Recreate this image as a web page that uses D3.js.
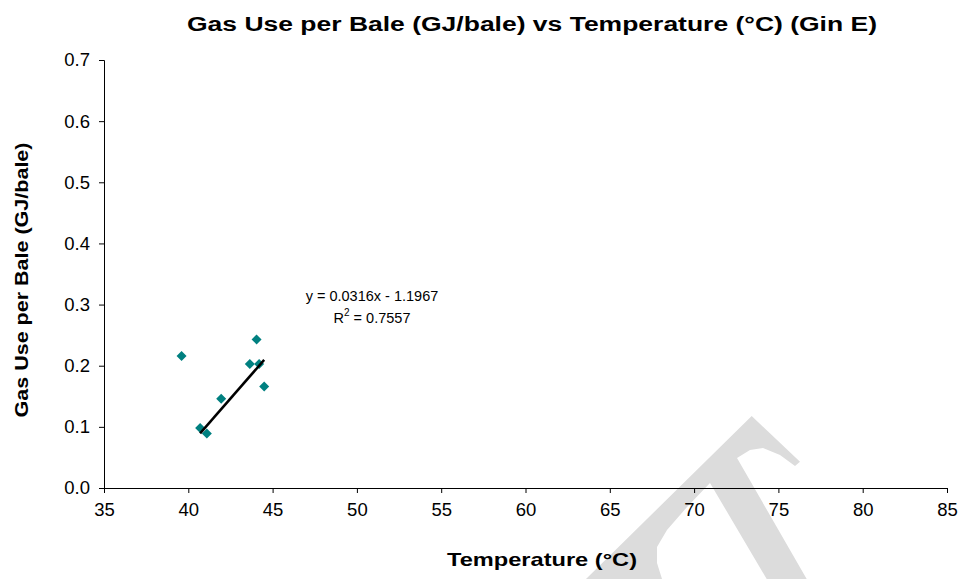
<!DOCTYPE html>
<html>
<head>
<meta charset="utf-8">
<script src="https://cdn.jsdelivr.net/npm/d3@7"></script>
<style>
  body { margin: 0; background: #fff; }
  svg { display: block; font-family: Arial, "Liberation Sans", sans-serif; }
</style>
</head>
<body>
<div id="chart"></div>
<script>
const temps = [39.6, 44.05, 43.65, 44.2, 44.5, 41.95, 40.7, 41.1];
const gasUse = [0.216, 0.243, 0.203, 0.203, 0.166, 0.146, 0.098, 0.089];
const xTicks = [35, 40, 45, 50, 55, 60, 65, 70, 75, 80, 85];
const yTicks = [0, 0.1, 0.2, 0.3, 0.4, 0.5, 0.6, 0.7];
const trendCoef = [0.0316, -1.1967];
const trendRange = [40.7, 44.5];
const trendLabels = ['y = 0.0316x - 1.1967', '= 0.7557'];

const width = 962;
const height = 579;
const margin = { top: 60, right: 15, bottom: 91, left: 104 };

const svg = d3.select('#chart').append('svg')
  .attr('width', width)
  .attr('height', height);

// light "draft" stamp fragment in the lower right
const stamp = [[586, 579], [751.7, 416], [800, 461.7], [795, 466], [780, 455], [763, 448],
  [750, 450], [737, 458], [806.7, 579], [766.7, 579], [710, 483], [687, 507],
  [667, 530], [657, 547], [657, 563], [662, 579]];
svg.append('path')
  .attr('d', d3.line().curve(d3.curveLinearClosed)(stamp))
  .attr('fill', '#dcdcdc');

const xScale = d3.scaleLinear().domain([35, 85]).range([margin.left, width - margin.right]);
const yScale = d3.scaleLinear().domain([0, 0.7]).range([height - margin.bottom, margin.top]);

const xAxis = svg.append('g')
  .attr('transform', `translate(0, ${yScale(0)})`)
  .call(d3.axisBottom(xScale).tickValues(xTicks).tickSize(5).tickPadding(10).tickFormat(d3.format('d')));

const yAxis = svg.append('g')
  .attr('transform', `translate(${xScale(35)}, 0)`)
  .call(d3.axisLeft(yScale).tickValues(yTicks).tickSize(5).tickPadding(9).tickFormat(d3.format('.1f')));

[xAxis, yAxis].forEach((g) => {
  g.select('.domain').attr('stroke', '#000');
  g.selectAll('.tick line').attr('stroke', '#000');
  g.selectAll('.tick text')
    .attr('fill', '#000')
    .style('font-size', '18.5px')
    .style('font-family', 'Arial, "Liberation Sans", sans-serif');
});

// points
const points = temps.map((t, i) => ({ t, g: gasUse[i] }));
svg.append('g')
  .selectAll('path')
  .data(points)
  .join('path')
  .attr('d', d3.symbol(d3.symbolSquare, 50))
  .attr('transform', (d) => `translate(${xScale(d.t)}, ${yScale(d.g)}) rotate(45)`)
  .attr('fill', '#008080');

// linear trendline
const trend = trendRange.map((x) => [x, trendCoef[0] * x + trendCoef[1]]);
svg.append('path')
  .attr('d', d3.line().x((d) => xScale(d[0])).y((d) => yScale(d[1]))(trend))
  .attr('stroke', '#000')
  .attr('stroke-width', 2.5)
  .attr('fill', 'none');

const eq = svg.append('g').style('font-size', '14.5px').attr('fill', '#000');
eq.append('text')
  .attr('x', 372).attr('y', 301)
  .attr('text-anchor', 'middle')
  .text(trendLabels[0]);
const r2 = eq.append('text')
  .attr('x', 372).attr('y', 323)
  .attr('text-anchor', 'middle');
r2.append('tspan').text('R');
r2.append('tspan').attr('dy', -7).style('font-size', '10px').text('2');
r2.append('tspan').attr('dy', 7).text(' ' + trendLabels[1]);

// titles (reference text is a little wider than the local bold font)
svg.append('text')
  .attr('x', 532).attr('y', 31)
  .attr('text-anchor', 'middle')
  .attr('textLength', 690).attr('lengthAdjust', 'spacingAndGlyphs')
  .style('font-size', '20px').style('font-weight', 'bold')
  .text('Gas Use per Bale (GJ/bale) vs Temperature (°C) (Gin E)');

svg.append('text')
  .attr('x', 542).attr('y', 566)
  .attr('text-anchor', 'middle')
  .attr('textLength', 190).attr('lengthAdjust', 'spacingAndGlyphs')
  .style('font-size', '19px').style('font-weight', 'bold')
  .text('Temperature (°C)');

svg.append('text')
  .attr('transform', 'translate(28, 280) rotate(-90)')
  .attr('text-anchor', 'middle')
  .attr('textLength', 275).attr('lengthAdjust', 'spacingAndGlyphs')
  .style('font-size', '19px').style('font-weight', 'bold')
  .text('Gas Use per Bale (GJ/bale)');
</script>
</body>
</html>
